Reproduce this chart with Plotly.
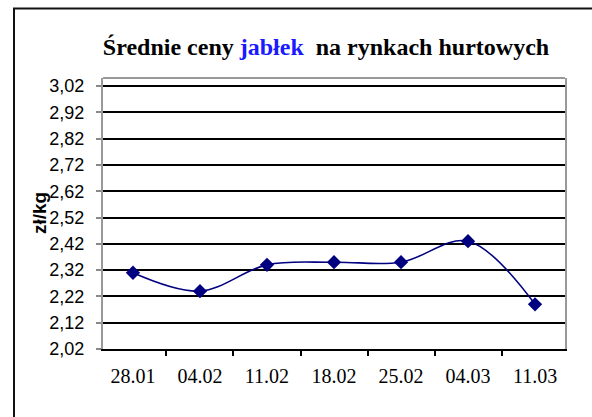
import plotly.graph_objects as go

dates = ["28.01", "04.02", "11.02", "18.02", "25.02", "04.03", "11.03"]
prices = [2.31, 2.24, 2.34, 2.35, 2.35, 2.43, 2.19]
y_ticks = [2.02, 2.12, 2.22, 2.32, 2.42, 2.52, 2.62, 2.72, 2.82, 2.92, 3.02]

W, H = 592, 417
L, R, T, B = 103, 27, 78, 68
pw, ph = W - L - R, H - T - B

def px_x(p):
    return (p - L) / pw

def px_y(p):
    return (H - B - p) / ph

fig = go.Figure()
fig.add_trace(go.Scatter(
    x=dates, y=prices, mode="lines+markers",
    line=dict(color="#000080", width=1.6, shape="spline", smoothing=1.0),
    marker=dict(symbol="diamond", size=11, color="#000080"),
    showlegend=False,
))

fig.update_layout(
    width=W, height=H,
    margin=dict(l=L, r=R, t=T, b=B),
    paper_bgcolor="white", plot_bgcolor="white",
    separators=", ",
    font=dict(family="Liberation Serif"),
    title=dict(
        text="Średnie ceny <span style='color:#1a1aff'>jabłek</span>  na rynkach hurtowych",
        font=dict(family="Liberation Serif", size=24, color="black", weight="bold"),
        x=326 / W, xanchor="center", xref="container",
        y=1 - 47 / H, yanchor="middle", yref="container",
    ),
    xaxis=dict(
        type="category", tickson="boundaries",
        showline=True, linecolor="black", linewidth=2,
        ticks="outside", ticklen=5, tickcolor="black", tickwidth=1.5,
        showgrid=False,
        tickfont=dict(family="Liberation Serif", size=20, color="black"),
        ticklabelstandoff=8,
    ),
    yaxis=dict(
        range=[2.02, 3.0505], tickvals=y_ticks, tickformat=".2f",
        showline=True, linecolor="#999999", linewidth=2, mirror=True,
        ticks="outside", ticklen=5, tickcolor="#888888", tickwidth=1.5,
        showgrid=True, gridcolor="black", gridwidth=1.5,
        zeroline=False,
        tickfont=dict(family="Liberation Sans", size=18, color="black"),
        ticklabelstandoff=8,
    ),
    shapes=[
        dict(type="line", xref="paper", yref="paper", x0=0, x1=1, y0=1, y1=1,
             line=dict(color="#999999", width=2)),
        dict(type="rect", xref="paper", yref="paper",
             x0=px_x(14), x1=3, y0=-3, y1=px_y(8.5),
             line=dict(color="#111111", width=2)),
    ],
    annotations=[
        dict(text="<b>zł/kg</b>", xref="paper", yref="paper",
             x=px_x(39), y=px_y(213), textangle=-90, showarrow=False,
             xanchor="center", yanchor="middle",
             font=dict(family="Liberation Sans", size=19, color="black")),
    ],
)

fig.write_html("out.html", config={"displayModeBar": False},
               post_script="document.body.style.margin='0';")
